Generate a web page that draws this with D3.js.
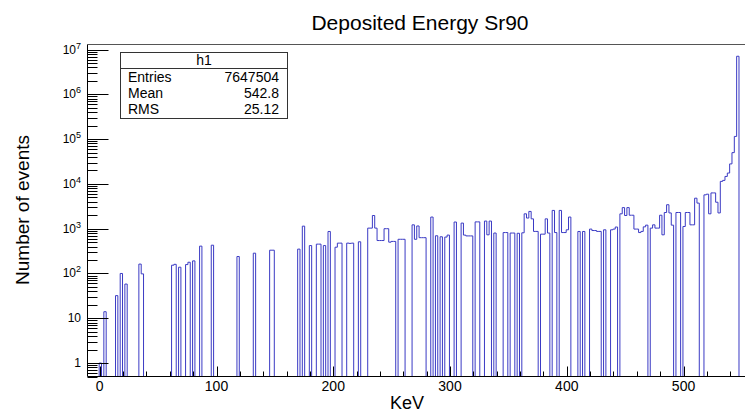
<!DOCTYPE html>
<html>
<head>
<meta charset="utf-8">
<script src="https://cdn.jsdelivr.net/npm/d3@7"></script>
<style>
  body { margin: 0; background: #fff; }
  svg { display: block; font-family: "Liberation Sans", Arial, Helvetica, sans-serif; }
</style>
</head>
<body>
<svg id="hist" width="745" height="412"></svg>
<script>
// histogram h1: 285 bins of 2 keV from -10.5 to 559.5, only non-empty bins listed
const xMin = -10.5, xMax = 559.5, binWidth = 2;
const energies = [0, 4, 14, 18, 22, 34, 36, 62, 64, 68, 74, 76, 80, 86, 96, 118, 132, 146, 148,
  170, 174, 180, 186, 188, 192, 196, 202, 204, 206, 212, 214, 216, 222,
  230, 232, 234, 236, 238, 240, 242, 244, 246, 248, 250, 252, 256, 258, 260,
  268, 270, 272, 274, 276, 278, 284, 288, 292, 296, 298, 304, 310, 312, 314, 316, 318,
  322, 324, 330, 332, 334, 338, 346, 348, 352, 354, 358, 362, 364, 366, 368, 370, 372, 374,
  378, 380, 382, 384, 388, 390, 394, 396, 398, 400, 402, 410, 414, 420, 422, 424, 426, 428,
  432, 438, 440, 442, 446, 448, 450, 452, 454, 456, 458, 460, 462, 464, 466, 468,
  472, 474, 476, 478, 480, 482, 484, 486, 488, 490, 494, 496, 500, 502, 504, 506, 508,
  510, 512, 518, 520, 522, 524, 526, 528, 530, 532, 534, 536, 538, 540, 542, 544, 546];
const counts = [1, 14, 32, 100, 58, 162, 98, 153, 160, 138, 158, 178, 191, 408, 428, 239, 284, 331, 331,
  350, 1140, 420, 452, 452, 420, 867, 386, 476, 476, 476, 470, 476, 510,
  1030, 1030, 1970, 1030, 544, 544, 544, 1000, 1000, 500, 520, 520, 580, 580, 580,
  1220, 580, 1150, 630, 630, 630, 1820, 695, 660, 650, 720, 1410, 1335, 720, 690, 690, 690,
  1420, 1420, 1480, 730, 1480, 800, 820, 820, 800, 800, 790, 810, 2150, 1730, 2430, 1660, 870, 870,
  755, 755, 1660, 800, 2560, 820, 2560, 820, 820, 945, 1820, 867, 867, 980, 910, 910, 870, 870,
  945, 945, 980, 1090, 2150, 2960, 1970, 2960, 2000, 2000, 980, 980, 820, 870, 1100, 1200,
  1030, 1220, 1030, 1030, 2000, 730, 2300, 3430, 2250, 1200, 2300, 2300, 1120, 2300, 2300, 1220, 1220,
  4800, 3730, 5700, 5900, 2150, 6300, 6300, 3900, 2250, 11400, 12000, 14700, 17500, 28000, 50000, 115000, 7100000];

const xTicks = [0, 100, 200, 300, 400, 500];
const yDecades = [0, 1, 2, 3, 4, 5, 6, 7];
const statsRows = [['Entries', '7647504'], ['Mean', '542.8'], ['RMS', '25.12']];

const svg = d3.select('svg#hist');
const frame = { left: 87.5, top: 44.5, right: 753, bottom: 376.5 };
const lineColor = '#3a3ac4';

const xScale = d3.scaleLinear().domain([xMin, xMax]).range([frame.left, frame.right]);
const yScale = d3.scaleLog().domain([0.5, 1.3e7]).range([frame.bottom, frame.top]);

// full bin contents
const nBins = Math.round((xMax - xMin) / binWidth);
const content = new Array(nBins).fill(0);
energies.forEach((e, i) => {
  const b = Math.floor((e - xMin) / binWidth);
  content[b] = counts[i];
});

const yOf = v => v > 0 ? yScale(v) : frame.bottom;
const pts = [[xMin, frame.bottom]];
content.forEach((v, b) => {
  const lo = xMin + b * binWidth;
  pts.push([lo, v], [lo + binWidth, v]);
});
pts.push([xMax, 0]);

svg.append('clipPath').attr('id', 'frameClip')
  .append('rect')
  .attr('x', frame.left).attr('y', frame.top)
  .attr('width', frame.right - frame.left).attr('height', frame.bottom - frame.top);

const line = d3.line()
  .x(d => xScale(d[0]))
  .y((d, i) => i === 0 ? d[1] : yOf(d[1]));

svg.append('path')
  .attr('clip-path', 'url(#frameClip)')
  .attr('d', line(pts))
  .attr('fill', 'none')
  .attr('stroke', lineColor)
  .attr('stroke-width', 1);

// frame
svg.append('line') // top
  .attr('x1', frame.left).attr('x2', frame.right)
  .attr('y1', frame.top).attr('y2', frame.top)
  .attr('stroke', '#555');
svg.append('line') // y axis
  .attr('x1', frame.left).attr('x2', frame.left)
  .attr('y1', frame.top).attr('y2', frame.bottom)
  .attr('stroke', 'black');
svg.append('line') // x axis
  .attr('x1', frame.left).attr('x2', frame.right)
  .attr('y1', frame.bottom).attr('y2', frame.bottom)
  .attr('stroke', 'black');

// x ticks: major every 100, minor every 20
const gx = svg.append('g');
d3.range(0, xMax, 20).forEach(t => {
  const major = t % 100 === 0;
  const px = Math.round(xScale(t)) + 0.5;
  gx.append('line')
    .attr('x1', px).attr('x2', px)
    .attr('y1', frame.bottom).attr('y2', frame.bottom - (major ? 10 : 5))
    .attr('stroke', 'black');
});
xTicks.forEach(t => {
  gx.append('text')
    .attr('x', xScale(t)).attr('y', 391)
    .attr('text-anchor', 'middle')
    .attr('font-size', 14)
    .text(t);
});

// y ticks: log decades with 2..9 minors
const gy = svg.append('g');
const yDom = yScale.domain();
yDecades.concat([-1]).forEach(k => {
  d3.range(1, 10).forEach(m => {
    const v = m * Math.pow(10, k);
    if (v < yDom[0] || v > yDom[1]) return;
    const py = Math.round(yScale(v)) + 0.5;
    gy.append('line')
      .attr('x1', frame.left).attr('x2', frame.left + (m === 1 ? 21 : 10))
      .attr('y1', py).attr('y2', py)
      .attr('stroke', 'black');
  });
});
yDecades.forEach(k => {
  const t = gy.append('text')
    .attr('x', 81).attr('y', yScale(Math.pow(10, k)) + 4)
    .attr('text-anchor', 'end')
    .attr('font-size', 12);
  if (k === 0) t.text('1');
  else if (k === 1) t.text('10');
  else {
    t.append('tspan').text('10');
    t.append('tspan').attr('dy', -5).attr('font-size', 9).text(k);
  }
});

// titles
svg.append('text')
  .attr('x', 420).attr('y', 30)
  .attr('text-anchor', 'middle')
  .attr('font-size', 21)
  .text('Deposited Energy Sr90');
svg.append('text')
  .attr('x', 407).attr('y', 409)
  .attr('text-anchor', 'middle')
  .attr('font-size', 18)
  .text('KeV');
svg.append('text')
  .attr('transform', 'translate(29,210) rotate(-90)')
  .attr('text-anchor', 'middle')
  .attr('font-size', 19)
  .text('Number of events');

// stats box
const box = { x: 120.5, y: 52.5, w: 167, h: 66 };
const gs = svg.append('g');
gs.append('rect')
  .attr('x', box.x).attr('y', box.y)
  .attr('width', box.w).attr('height', box.h)
  .attr('fill', 'white').attr('stroke', '#333');
gs.append('line')
  .attr('x1', box.x).attr('x2', box.x + box.w)
  .attr('y1', 68.5).attr('y2', 68.5)
  .attr('stroke', '#333');
gs.append('text')
  .attr('x', box.x + box.w / 2).attr('y', 65)
  .attr('text-anchor', 'middle')
  .attr('font-size', 14)
  .text('h1');
statsRows.forEach((r, i) => {
  const by = 82 + i * 16;
  gs.append('text').attr('x', 128).attr('y', by).attr('font-size', 14).text(r[0]);
  gs.append('text').attr('x', 279).attr('y', by).attr('text-anchor', 'end').attr('font-size', 14).text(r[1]);
});
</script>
</body>
</html>
